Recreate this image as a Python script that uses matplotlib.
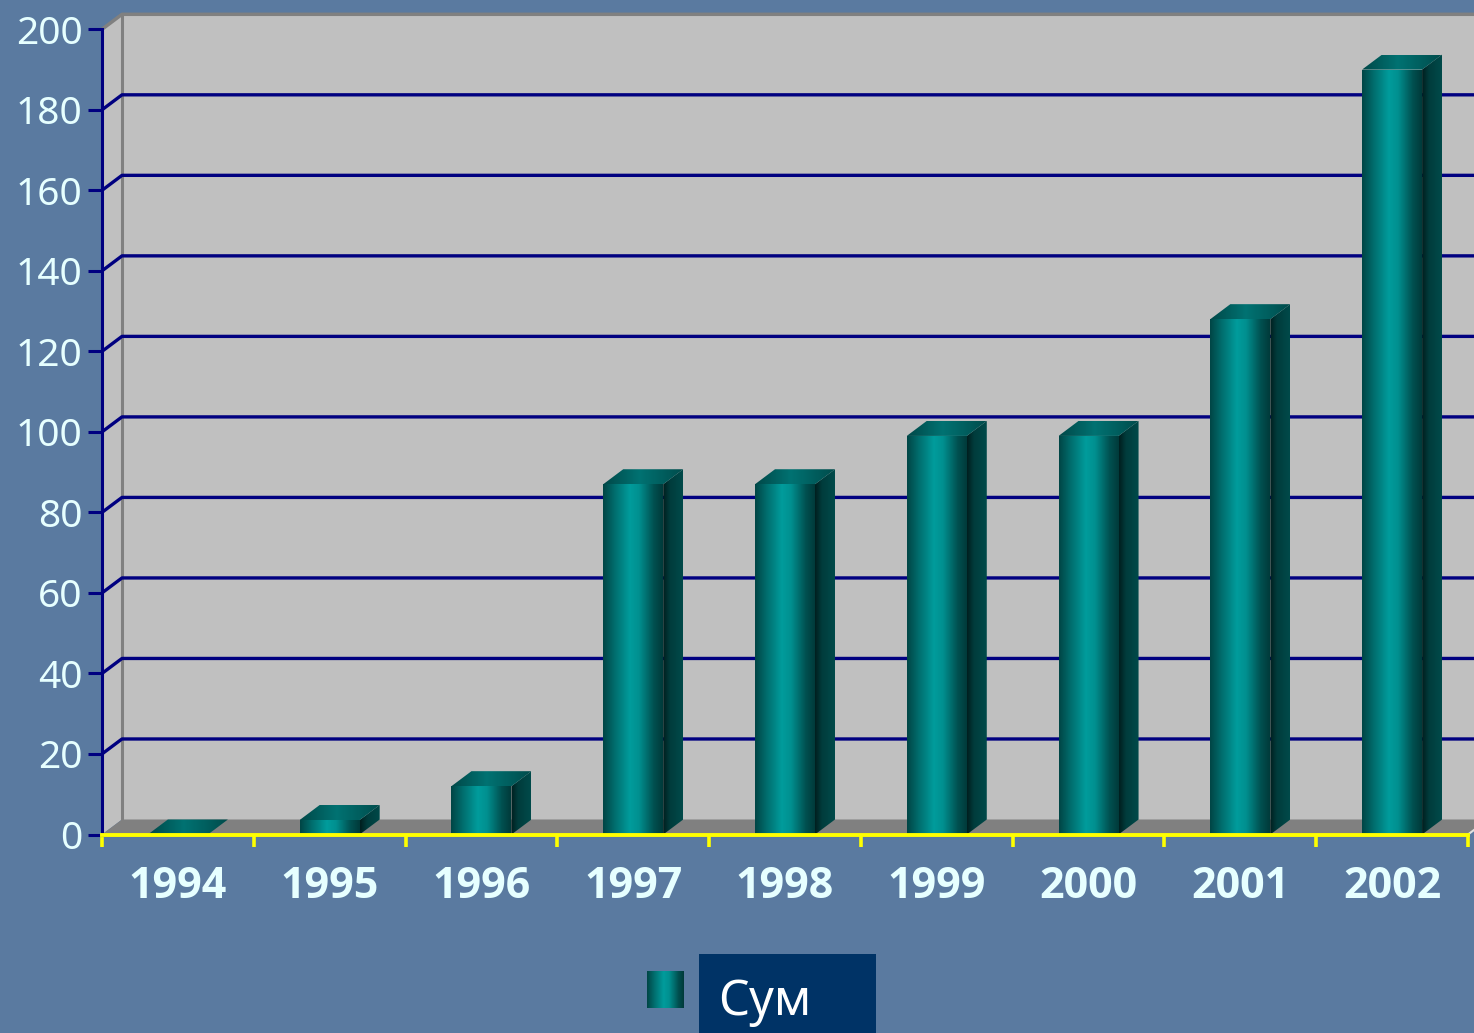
import numpy as np
import matplotlib
matplotlib.use("Agg")
import matplotlib.pyplot as plt
from matplotlib import font_manager
from matplotlib.patches import Polygon, Rectangle
from matplotlib.colors import LinearSegmentedColormap

# ---- data ----
years = ["1994", "1995", "1996", "1997", "1998", "1999", "2000", "2001", "2002"]
values = [0, 3.6, 12, 87, 87, 99, 99, 128, 190]
yticks = [0, 20, 40, 60, 80, 100, 120, 140, 160, 180, 200]
legend_label = "Сум"

plt.rcParams['font.family'] = ['Noto Sans', 'DejaVu Sans']

# choose a family that actually has a bold face
bold_file = None
for fam in ["Noto Sans", "Open Sans", "Lato", "Roboto", "DejaVu Sans"]:
    cands = [f for f in font_manager.fontManager.ttflist
             if f.name == fam and (f.weight in ("bold", 700) or
                                   (isinstance(f.weight, int) and f.weight == 700))
             and f.style == "normal"]
    if cands:
        bold_file = cands[0].fname
        break
if bold_file:
    bold_fp = font_manager.FontProperties(fname=bold_file, size=31)
else:
    bold_fp = font_manager.FontProperties(family="DejaVu Sans", weight="bold", size=27)

BG = "#5a7aa0"
WALL = "#c0c0c0"
FLOOR = "#808080"
GRID = "#000080"
TXT = "#e6ffff"

W, H = 1474, 1033
fig = plt.figure(figsize=(W / 100, H / 100), dpi=100, facecolor=BG)

# axes placement (front plane)
x0, x1 = 102, 1468
y0, y1 = 834.5, 29.3
ax = fig.add_axes([x0 / W, (H - y0) / H, (x1 - x0) / W, (y0 - y1) / H])
ax.set_facecolor("none")
n = len(years)
XMIN, XMAX = -0.5, n - 0.5
YMIN, YMAX = 0, 200
ax.set_xlim(XMIN, XMAX)
ax.set_ylim(YMIN, YMAX)

px_per_cat = (x1 - x0) / n
px_per_unit = (y0 - y1) / (YMAX - YMIN)
dx = 20 / px_per_cat
dy = 15 / px_per_unit

# side wall
ax.add_patch(Polygon([(XMIN, 0), (XMIN, YMAX), (XMIN + dx, YMAX + dy), (XMIN + dx, dy)],
                     closed=True, facecolor=WALL, edgecolor="none", clip_on=False, zorder=0))
# back wall
ax.add_patch(Polygon([(XMIN + dx, dy), (XMIN + dx, YMAX + dy), (XMAX + 1, YMAX + dy), (XMAX + 1, dy)],
                     closed=True, facecolor=WALL, edgecolor="none", clip_on=False, zorder=0))
# floor
ax.add_patch(Polygon([(XMIN, 0), (XMAX, 0), (XMAX + dx, dy), (XMIN + dx, dy)],
                     closed=True, facecolor=FLOOR, edgecolor="none", clip_on=False, zorder=0.5))
# wall edges
ax.plot([XMIN, XMIN + dx, XMAX + 1], [YMAX, YMAX + dy, YMAX + dy], color=FLOOR, lw=2.5,
        clip_on=False, zorder=0.6, solid_capstyle="butt")
ax.plot([XMIN + dx, XMIN + dx], [dy, YMAX + dy], color=FLOOR, lw=2.2, clip_on=False, zorder=0.6)
ax.plot([XMAX, XMAX + dx], [0, dy], color="#e0e0e0", lw=1.5, clip_on=False, zorder=0.6)

# gridlines on walls
for v in yticks[1:-1]:
    ax.plot([XMIN, XMIN + dx, XMAX + 1], [v, v + dy, v + dy], color=GRID, lw=2.4,
            clip_on=False, zorder=0.7, solid_capstyle="butt")

# gradient colormaps
front_cmap = LinearSegmentedColormap.from_list(
    "front", [(0, "#004545"), (0.2, "#006e6e"), (0.45, "#009c9c"), (0.6, "#009090"),
              (0.85, "#005050"), (1, "#003a3a")])
side_cmap = LinearSegmentedColormap.from_list(
    "side", [(0, "#001e1e"), (0.35, "#003c3c"), (1, "#004a4a")])
top_cmap = LinearSegmentedColormap.from_list(
    "top", [(0, "#004848"), (0.45, "#007272"), (1, "#004c4c")])

grad = np.linspace(0, 1, 256).reshape(1, -1)


def fill_gradient(patch, cmap, xa, xb, ya, yb, z):
    patch.set_facecolor("none")
    patch.set_edgecolor("none")
    im = ax.imshow(grad, cmap=cmap, aspect="auto", extent=[xa, xb, ya, yb],
                   origin="lower", zorder=z, interpolation="bilinear", clip_on=True)
    im.set_clip_path(patch)


w = 60 / px_per_cat
xs = np.arange(n)
bars = ax.bar(xs, values, width=w, color="none", edgecolor="none", zorder=3)
for i, (b, v) in enumerate(zip(bars, values)):
    z = 3 + i * 0.01
    L = b.get_x()
    R = L + b.get_width()
    # side face
    side = Polygon([(R, 0), (R + dx, dy), (R + dx, v + dy), (R, v)], closed=True, clip_on=False)
    ax.add_patch(side)
    fill_gradient(side, side_cmap, R, R + dx, 0, v + dy, z)
    # top face
    top = Polygon([(L, v), (R, v), (R + dx, v + dy), (L + dx, v + dy)], closed=True, clip_on=False)
    ax.add_patch(top)
    fill_gradient(top, top_cmap, L, R + dx, v, v + dy, z)
    # front face
    if v > 0:
        fill_gradient(b, front_cmap, L, R, 0, v, z + 0.005)

ax.set_xlim(XMIN, XMAX)
ax.set_ylim(YMIN, YMAX)

# spines
for s in ["top", "right"]:
    ax.spines[s].set_visible(False)
ax.spines["left"].set_color(GRID)
ax.spines["left"].set_linewidth(2.2)
ax.spines["left"].set_zorder(5)
ax.spines["bottom"].set_color("#ffff00")
ax.spines["bottom"].set_linewidth(2.8)
ax.spines["bottom"].set_zorder(5)

ax.set_yticks(yticks)
ax.set_yticklabels([str(t) for t in yticks])
ax.tick_params(axis="y", colors=GRID, length=10, width=2.2, pad=4,
               labelsize=28, labelcolor=TXT)

ax.set_xticks(np.arange(n + 1) - 0.5)
ax.set_xticklabels([])
ax.tick_params(axis="x", which="major", colors="#ffff00", length=8.5, width=2.6, direction="out")
ax.set_xticks(xs, minor=True)
ax.set_xticklabels(years, minor=True, fontproperties=bold_fp)
ax.tick_params(axis="x", which="minor", length=0, pad=22, labelcolor=TXT)

# legend (manual)
fig.patches.append(Rectangle((699 / W, 0), (876 - 699) / W, (H - 954) / H,
                             transform=fig.transFigure, facecolor="#003366", edgecolor="none"))
lax = fig.add_axes([647 / W, (H - 1008) / H, 37 / W, 37 / H])
lax.imshow(grad, cmap=front_cmap, aspect="auto", interpolation="bilinear")
lax.axis("off")
fig.text(718 / W, (H - 1015) / H, legend_label, color="white", fontsize=35,
         ha="left", va="baseline")

fig.savefig("out.png", dpi=100, facecolor=BG)
